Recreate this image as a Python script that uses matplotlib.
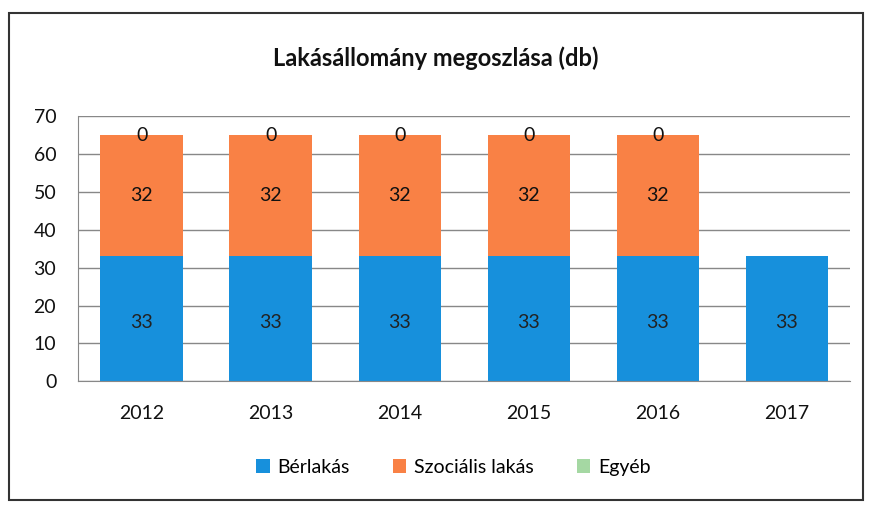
import matplotlib.pyplot as plt
import numpy as np
from matplotlib.patches import Rectangle

plt.rcParams['font.family'] = ['Lato', 'DejaVu Sans']

years = ["2012", "2013", "2014", "2015", "2016", "2017"]
berlakas = [33, 33, 33, 33, 33, 33]
szocialis = [32, 32, 32, 32, 32, 0]
egyeb = [0, 0, 0, 0, 0, 0]
series_names = ["Bérlakás", "Szociális lakás", "Egyéb"]

c_blue = "#1790dc"
c_orange = "#f98145"
c_green = "#a5d8a3"

fig = plt.figure(figsize=(8.72, 5.05), dpi=100)
ax = fig.add_axes([0.09, 0.245, 0.885, 0.525])

x = np.arange(len(years))
w = 0.64
b1 = ax.bar(x, berlakas, w, color=c_blue, label=series_names[0])
b2 = ax.bar(x, szocialis, w, bottom=berlakas, color=c_orange, label=series_names[1])
bottom3 = np.array(berlakas) + np.array(szocialis)
b3 = ax.bar(x, egyeb, w, bottom=bottom3, color=c_green, label=series_names[2])

for i in range(len(years)):
    ax.text(x[i], berlakas[i] / 2 - 1, str(berlakas[i]), ha="center", va="center",
            fontsize=14, color="#222222")
    if szocialis[i] > 0:
        ax.text(x[i], berlakas[i] + szocialis[i] / 2, str(szocialis[i]), ha="center",
                va="center", fontsize=14, color="#111111")
        ax.text(x[i], bottom3[i] + egyeb[i], str(egyeb[i]), ha="center", va="center",
                fontsize=14, color="#111111")

ax.set_ylim(0, 70)
ax.set_yticks(range(0, 71, 10))
ax.set_xlim(-0.49, len(years) - 0.51)
ax.set_xticks(x)
ax.set_xticklabels(years)
ax.tick_params(axis="both", length=0, labelsize=14, colors="#111111")
ax.tick_params(axis="x", pad=17)
ax.tick_params(axis="y", pad=16)
ax.grid(axis="y", color="#888888", linewidth=1)
ax.set_axisbelow(True)
for s in ["top", "right"]:
    ax.spines[s].set_visible(False)
ax.spines["left"].set_color("#888888")
ax.spines["bottom"].set_color("#888888")

fig.text(0.5, 0.885, "Lakásállomány megoszlása (db)", ha="center", va="center",
         fontsize=17, fontweight="bold", color="#111111")

leg = fig.legend(handles=[b1, b2, b3], loc="center", bbox_to_anchor=(0.52, 0.075),
                 ncol=3, frameon=False, fontsize=14, handlelength=0.7,
                 handleheight=0.7, columnspacing=2.2, handletextpad=0.4)

fig.patches.append(Rectangle((0.01, 0.01), 0.98, 0.965, transform=fig.transFigure,
                             fill=False, edgecolor="#333333", linewidth=1.5))

fig.savefig("out.png", dpi=100)
